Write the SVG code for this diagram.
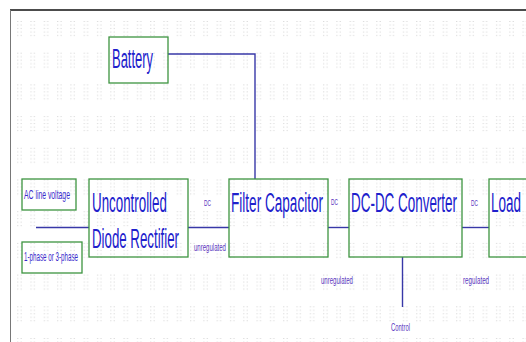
<svg xmlns="http://www.w3.org/2000/svg" width="526" height="342" viewBox="0 0 526 342">
<style>
.box{fill:none;stroke:#3d9440;stroke-width:1.3}
.big{font-family:"Liberation Sans",Arial,sans-serif;font-size:28px;fill:#2020cc}
.sm{font-family:"Liberation Sans",Arial,sans-serif;font-size:12px;fill:#3a2acc}
.lbl{font-family:"Liberation Sans",Arial,sans-serif;font-size:11px;fill:#5a35c0}
.dc{font-family:"Liberation Sans",Arial,sans-serif;font-size:9px;fill:#5a35c0}
.wire{fill:none;stroke:#3838a8;stroke-width:1.4}
</style>
<defs>
<pattern id="grid" patternUnits="userSpaceOnUse" x="0" y="21" width="13.3" height="31.7">
<g fill="#d2d2d2">
<rect x="4" y="0" width="1" height="1"/><rect x="7.3" y="0" width="1" height="1"/>
<rect x="4" y="3.5" width="1" height="1"/><rect x="7.3" y="3.5" width="1" height="1"/>
<rect x="4" y="7" width="1" height="1"/><rect x="7.3" y="7" width="1" height="1"/>
<rect x="4" y="10.5" width="1" height="1"/><rect x="7.3" y="10.5" width="1" height="1"/>
<rect x="4" y="14" width="1" height="1"/><rect x="7.3" y="14" width="1" height="1"/>
</g>
</pattern>
</defs>
<rect x="0" y="0" width="526" height="342" fill="#ffffff"/>
<rect x="11" y="11" width="515" height="331" fill="url(#grid)"/>
<line x1="10" y1="10" x2="526" y2="10" stroke="#111" stroke-width="1.6"/>
<line x1="10.5" y1="10" x2="10.5" y2="342" stroke="#777" stroke-width="1"/>

<g id="connectors">
<polyline class="wire" points="168,54 255,54 255,179"/>
<line class="wire" x1="36" y1="227.5" x2="89" y2="227.5"/>
<line class="wire" x1="188" y1="227.5" x2="229" y2="227.5"/>
<line class="wire" x1="328" y1="227.5" x2="349" y2="227.5"/>
<line class="wire" x1="462" y1="227.5" x2="489" y2="227.5"/>
<line class="wire" x1="402.5" y1="257" x2="402.5" y2="307"/>
<text class="dc" transform="translate(204,206) scale(0.54,1)">DC</text>
<text class="lbl" transform="translate(194,251) scale(0.55,1)">unregulated</text>
<text class="dc" transform="translate(331,205) scale(0.54,1)">DC</text>
<text class="dc" transform="translate(471,206) scale(0.54,1)">DC</text>
<text class="lbl" transform="translate(321,284) scale(0.55,1)">unregulated</text>
<text class="lbl" transform="translate(463,284) scale(0.57,1)">regulated</text>
<text class="lbl" transform="translate(391,331) scale(0.535,1)">Control</text>
</g>

<g id="battery">
<rect class="box" x="109" y="37" width="59" height="46"/>
<text class="big" transform="translate(112,68) scale(0.463,1)">Battery</text>
</g>
<g id="ac-line">
<rect class="box" x="22" y="179" width="54" height="31"/>
<text class="sm" transform="translate(24,199) scale(0.57,1)">AC line voltage</text>
</g>
<g id="phase">
<rect class="box" x="22" y="242" width="60" height="31"/>
<text class="sm" transform="translate(24,261) scale(0.52,1)">1-phase or 3-phase</text>
</g>
<g id="rectifier">
<rect class="box" x="89" y="179" width="99" height="78"/>
<text class="big" transform="translate(92,212) scale(0.477,1)">Uncontrolled</text>
<text class="big" transform="translate(92,247.5) scale(0.474,1)">Diode Rectifier</text>
</g>
<g id="filter">
<rect class="box" x="229" y="179" width="99" height="78"/>
<text class="big" transform="translate(231,211.5) scale(0.485,1)">Filter Capacitor</text>
</g>
<g id="converter">
<rect class="box" x="349" y="179" width="113" height="78"/>
<text class="big" transform="translate(351,211.5) scale(0.48,1)">DC-DC Converter</text>
</g>
<g id="load">
<rect class="box" x="489" y="179" width="45" height="78"/>
<text class="big" transform="translate(491,211.5) scale(0.482,1)">Load</text>
</g>
</svg>
